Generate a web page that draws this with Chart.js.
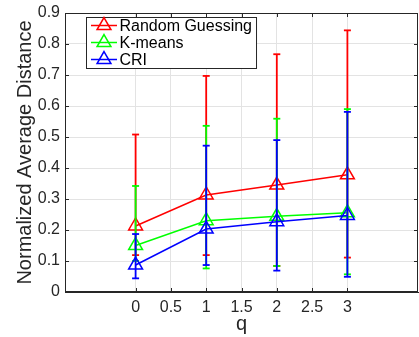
<!DOCTYPE html>
<html><head><meta charset="utf-8">
<script src="https://cdn.jsdelivr.net/npm/chart.js@4/dist/chart.umd.min.js"></script>
<style>html,body{margin:0;padding:0;background:#fff;overflow:hidden;}#wrap{width:419px;height:337px;position:relative;}canvas{display:block;}</style>
</head><body><div id="wrap"><canvas id="c"></canvas></div>
<script>
const qValues = [0, 1, 2, 3];
const seriesNames = ['Random Guessing', 'K-means', 'CRI'];
const randomMean = [0.213, 0.313, 0.345, 0.378];
const randomLow  = [0.119, 0.119, 0.084, 0.111];
const randomHigh = [0.508, 0.697, 0.767, 0.844];
const kmeansMean = [0.150, 0.230, 0.244, 0.256];
const kmeansLow  = [0.100, 0.076, 0.084, 0.057];
const kmeansHigh = [0.342, 0.536, 0.559, 0.590];
const criMean = [0.087, 0.203, 0.227, 0.247];
const criLow  = [0.044, 0.087, 0.069, 0.049];
const criHigh = [0.187, 0.472, 0.490, 0.581];
const xTickValues = [0, 0.5, 1, 1.5, 2, 2.5, 3];
const yTickValues = [0, 0.1, 0.2, 0.3, 0.4, 0.5, 0.6, 0.7, 0.8, 0.9];

const FONT = '"Liberation Sans", Arial, Helvetica, sans-serif';
const AX = '#262626';
const colors = ['#ff0000', '#00ff00', '#0000ff'];
const series = [
  {mean: randomMean, low: randomLow, high: randomHigh},
  {mean: kmeansMean, low: kmeansLow, high: kmeansHigh},
  {mean: criMean, low: criLow, high: criHigh}
];

const datasets = [];
series.forEach((s, i) => {
  const col = colors[i];
  const base = (3 - i) * 2;
  datasets.push({
    label: seriesNames[i] + ' error',
    isMain: false,
    data: qValues.flatMap((q, j) => [{x: q, y: s.low[j]}, {x: q, y: s.high[j]}, {x: q, y: null}]),
    showLine: true, spanGaps: false,
    borderColor: col, borderWidth: 1.8,
    pointStyle: 'line',
    pointRadius: c => (c.raw && c.raw.y != null ? 3.5 : 0),
    pointHoverRadius: 0,
    pointBorderColor: col, pointBorderWidth: 1.8,
    order: base
  });
  datasets.push({
    label: seriesNames[i],
    isMain: true,
    data: qValues.map((q, j) => ({x: q, y: s.mean[j]})),
    showLine: true,
    borderColor: col, borderWidth: 1.5,
    pointStyle: 'triangle', pointRadius: 8, pointHoverRadius: 8,
    pointBorderColor: col, pointBorderWidth: 1.5,
    pointBackgroundColor: 'rgba(0,0,0,0)',
    order: base - 1
  });
});

const frame = {
  id: 'frame',
  afterDatasetsDraw(chart) {
    const {ctx, chartArea: a, scales} = chart;
    ctx.save();
    ctx.strokeStyle = AX; ctx.lineWidth = 1;
    ctx.beginPath();
    ctx.moveTo(a.left, a.top + 0.5); ctx.lineTo(a.right, a.top + 0.5);
    ctx.moveTo(a.right - 0.5, a.top); ctx.lineTo(a.right - 0.5, a.bottom);
    ctx.moveTo(a.left + 0.5, a.top); ctx.lineTo(a.left + 0.5, a.bottom);
    ctx.moveTo(a.left, a.bottom - 0.5); ctx.lineTo(a.right, a.bottom - 0.5);
    xTickValues.forEach(v => {
      const px = Math.round(scales.x.getPixelForValue(v)) + 0.5;
      ctx.moveTo(px, a.bottom); ctx.lineTo(px, a.bottom - 4);
      ctx.moveTo(px, a.top); ctx.lineTo(px, a.top + 4);
    });
    yTickValues.forEach(v => {
      const py = Math.round(scales.y.getPixelForValue(v)) + 0.5;
      ctx.moveTo(a.left, py); ctx.lineTo(a.left + 4, py);
      ctx.moveTo(a.right, py); ctx.lineTo(a.right - 4, py);
    });
    ctx.stroke();
    ctx.restore();
  }
};

function tri(ctx, x, y, r) {
  ctx.beginPath();
  let rad = 0;
  ctx.moveTo(x + Math.sin(rad) * r, y - Math.cos(rad) * r);
  rad += 2 * Math.PI / 3;
  ctx.lineTo(x + Math.sin(rad) * r, y - Math.cos(rad) * r);
  rad += 2 * Math.PI / 3;
  ctx.lineTo(x + Math.sin(rad) * r, y - Math.cos(rad) * r);
  ctx.closePath();
  ctx.stroke();
}

const legendBox = {
  id: 'legendBox',
  afterDraw(chart) {
    const {ctx, chartArea: a} = chart;
    const items = chart.data.datasets.filter(d => d.isMain);
    ctx.save();
    ctx.font = '16px ' + FONT;
    const left = a.left + 21, top = a.top + 4, rowH = 17;
    const textX = left + 33.5;
    const maxW = Math.max(...items.map(d => ctx.measureText(d.label).width));
    const w = textX - left + maxW + 4, h = rowH * items.length;
    ctx.fillStyle = '#fff';
    ctx.fillRect(left, top, w, h);
    ctx.strokeStyle = AX; ctx.lineWidth = 1;
    ctx.strokeRect(left + 0.5, top + 0.5, w, h);
    items.forEach((d, i) => {
      const cy = top + 8.5 + i * rowH;
      ctx.strokeStyle = d.borderColor; ctx.lineWidth = 1.5;
      ctx.beginPath(); ctx.moveTo(left + 5, cy); ctx.lineTo(left + 31, cy); ctx.stroke();
      tri(ctx, left + 18, cy, 8);
      ctx.fillStyle = '#000'; ctx.textBaseline = 'middle'; ctx.textAlign = 'left';
      ctx.fillText(d.label, textX, cy + 1);
    });
    ctx.restore();
  }
};

Chart.defaults.font.family = FONT;
new Chart(document.getElementById('c'), {
  type: 'scatter',
  data: {datasets},
  options: {
    responsive: true, maintainAspectRatio: false, animation: false,
    layout: {autoPadding: false, padding: {top: 13, right: 1, left: 0, bottom: 0}},
    plugins: {legend: {display: false}, tooltip: {enabled: false}},
    scales: {
      x: {
        type: 'linear', min: -1, max: 4,
        afterBuildTicks: s => { s.ticks = xTickValues.map(v => ({value: v})); },
        afterFit: s => { s.height = 45; s.paddingLeft = 0; s.paddingRight = 0; },
        ticks: {font: {size: 16}, color: AX, padding: 6, maxRotation: 0, autoSkip: false, callback: v => String(v)},
        grid: {color: '#e3e3e3', drawTicks: false},
        border: {display: true, color: AX},
        title: {display: true, text: 'q', color: AX, font: {size: 20}, padding: {top: 0, bottom: 1}}
      },
      y: {
        type: 'linear', min: 0, max: 0.9,
        afterBuildTicks: s => { s.ticks = yTickValues.map(v => ({value: v})); },
        afterFit: s => { s.width = 65; s.paddingTop = 0; s.paddingBottom = 0; },
        ticks: {font: {size: 16}, color: AX, padding: 5, autoSkip: false, callback: v => String(Math.round(v * 10) / 10)},
        grid: {color: '#e3e3e3', drawTicks: false},
        border: {display: true, color: AX},
        title: {display: true, text: 'Normalized Average Distance', color: AX, font: {size: 20}, padding: {top: 13, bottom: 0}}
      }
    }
  },
  plugins: [frame, legendBox]
});
</script></body></html>
